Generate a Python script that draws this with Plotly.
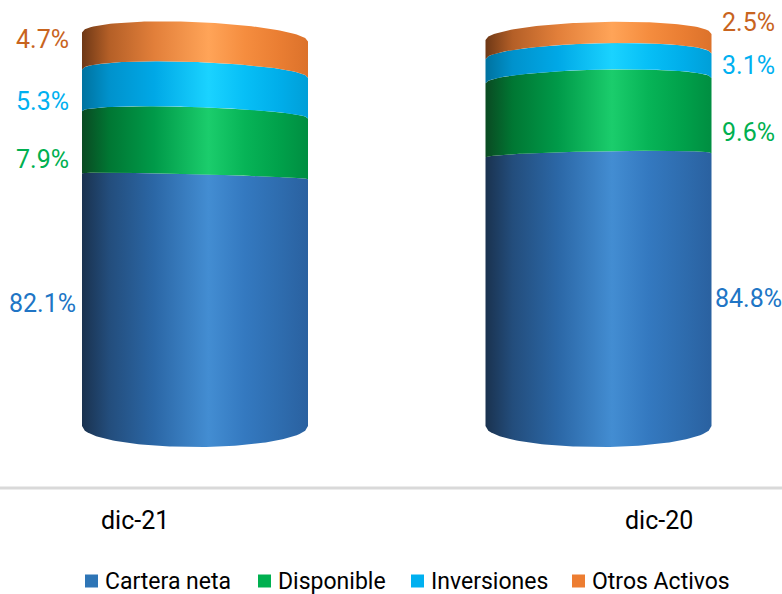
import numpy as np
import plotly.graph_objects as go

# ---- data -------------------------------------------------------------
categories = ["dic-21", "dic-20"]
series_names = ["Cartera neta", "Disponible", "Inversiones", "Otros Activos"]
cartera = [82.1, 84.8]
disponible = [7.9, 9.6]
inversiones = [5.3, 3.1]
otros = [4.7, 2.5]
series_values = [cartera, disponible, inversiones, otros]

# ---- styles -----------------------------------------------------------
legend_colors = ["#2e75b6", "#00b050", "#00b0f0", "#ed7d31"]
label_colors = ["#2075c5", "#00b050", "#00b0f0", "#c8641e"]
gradients = [
    [[0.0, "#1a324f"], [0.12, "#234d7c"], [0.32, "#2b67a6"], [0.56, "#438dd2"],
     [0.72, "#3479c0"], [0.88, "#2e6cae"], [1.0, "#2a61a0"]],
    [[0.0, "#0a4a22"], [0.12, "#007733"], [0.32, "#009a49"], [0.56, "#1bcd6c"],
     [0.72, "#07b457"], [0.88, "#00a04a"], [1.0, "#008e41"]],
    [[0.0, "#00729f"], [0.12, "#0092cc"], [0.32, "#00a8e6"], [0.56, "#1ad3ff"],
     [0.72, "#07bff6"], [0.88, "#00ade9"], [1.0, "#009fd8"]],
    [[0.0, "#6e3816"], [0.12, "#b45f27"], [0.32, "#e27f3a"], [0.56, "#ffa458"],
     [0.72, "#f58d3f"], [0.88, "#e97d32"], [1.0, "#dc722b"]],
]
FONT = "Liberation Sans Narrow, Arial Narrow, Roboto, sans-serif"

# ---- geometry ---------------------------------------------------------
W, H = 782, 594
PX_X = 403.5            # pixels between category centres
X0_PX = 195             # pixel position of the first category
PX_Y = 7.78             # pixels per percentage point
Y100_PX = 37            # pixel row of the 100 % level
BASE = 50               # value axis floor where the cylinders start
HALF_W = 113 / PX_X     # cylinder half width in x units
TILT = [9, -6]          # perspective tilt of the rims (px at the top)
label_shift = [-153, 150]
label_nudge = [[-0.3, -1.75, -0.9, 2.05], [-1.0, -1.9, 0.45, 3.15]]
cat_shift = [-60, 60]
legend_sq_px = [85, 258, 411, 572]   # left edge of each legend swatch
LEGEND_Y_PX = 581
SQ = 13

x_range = [-X0_PX / PX_X, (W - X0_PX) / PX_X]
y_range = [100 - (H - Y100_PX) / PX_Y, 100 + Y100_PX / PX_Y]

u = np.linspace(-1, 1, 81)


def rim(i, v):
    """Elliptic rim of cylinder i at value v, returned in data units."""
    curv = -21 + 0.72 * (v - BASE)                 # px, >0 bulges upward
    tilt = TILT[i] * (v - BASE) / (100 - BASE)     # px, >0 right side lower
    off = curv * np.sqrt(np.clip(1 - u ** 2, 0, 1)) - tilt * u / 2
    return v + off / PX_Y


fig = go.Figure()
annotations = []
shapes = []
for i, cat in enumerate(categories):
    xs = i + u * HALF_W
    top = 0.0
    for k, vals in enumerate(series_values):
        lo = top
        top = lo + vals[i]
        y_lo = rim(i, max(lo, BASE))
        y_hi = rim(i, top)
        px = np.concatenate([xs, xs[::-1], xs[:1]])
        py = np.concatenate([y_lo, y_hi[::-1], y_lo[:1]])
        fig.add_trace(go.Scatter(
            x=px, y=py, mode="lines", line=dict(width=0),
            fill="toself",
            fillgradient=dict(type="horizontal", colorscale=gradients[k]),
            showlegend=False, hoverinfo="skip", name=series_names[k],
        ))
        mid = (max(lo, BASE) + top) / 2 + label_nudge[i][k]
        annotations.append(dict(
            x=i, y=mid, xref="x", yref="y", xshift=label_shift[i],
            yanchor="middle",
            text=f"{vals[i]:.1f}%", showarrow=False,
            font=dict(family=FONT, size=25, color=label_colors[k]),
        ))
    annotations.append(dict(
        x=i, y=1 - 520 / H, xref="x", yref="paper", xshift=cat_shift[i],
        yanchor="middle",
        text=cat, showarrow=False,
        font=dict(family=FONT, size=25, color="#000000"),
    ))

# legend row: coloured swatch followed by the series name
for name, col, x_px in zip(series_names, legend_colors, legend_sq_px):
    shapes.append(dict(
        type="rect", xref="paper", yref="paper", line=dict(width=0),
        x0=x_px / W, x1=(x_px + SQ) / W,
        y0=1 - (LEGEND_Y_PX + SQ / 2) / H, y1=1 - (LEGEND_Y_PX - SQ / 2) / H,
        fillcolor=col,
    ))
    annotations.append(dict(
        x=(x_px + SQ + 5) / W, y=1 - LEGEND_Y_PX / H,
        xref="paper", yref="paper", xanchor="left", yanchor="middle",
        text=name, showarrow=False,
        font=dict(family=FONT, size=23, color="#000000"),
    ))

shapes.append(dict(type="line", xref="paper", yref="paper",
                   x0=0, x1=1, y0=1 - 488 / H, y1=1 - 488 / H,
                   line=dict(color="#d9d9d9", width=3)))

fig.update_layout(
    width=W, height=H,
    margin=dict(l=0, r=0, t=0, b=0, autoexpand=False),
    paper_bgcolor="white", plot_bgcolor="white",
    xaxis=dict(range=x_range, visible=False, fixedrange=True),
    yaxis=dict(range=y_range, visible=False, fixedrange=True),
    annotations=annotations,
    shapes=shapes,
    showlegend=False,
)

fig.write_html("out.html")
